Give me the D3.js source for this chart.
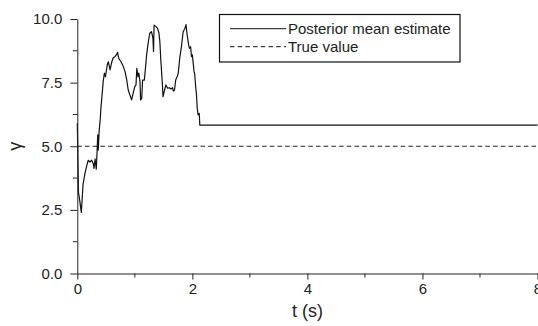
<!DOCTYPE html>
<html>
<head>
<meta charset="utf-8">
<script src="https://cdn.jsdelivr.net/npm/d3@7"></script>
<style>
  body { margin: 0; background: #fff; }
  svg { display: block; font-family: "Liberation Sans", Arial, sans-serif; }
</style>
</head>
<body>
<svg width="538" height="326"></svg>
<script>
// posterior mean estimate of gamma over time
const tValues = [0, 0.01, 0.02, 0.04, 0.07, 0.1, 0.13, 0.16, 0.19, 0.22, 0.25, 0.28, 0.29, 0.31, 0.33,
  0.345, 0.355, 0.365, 0.38, 0.4, 0.41, 0.42, 0.43, 0.45, 0.47, 0.49, 0.52, 0.54, 0.57, 0.6,
  0.625, 0.655, 0.685, 0.7, 0.72, 0.76, 0.8, 0.83, 0.86, 0.885, 0.915, 0.945, 0.97, 1.0, 1.02,
  1.035, 1.055, 1.07, 1.09, 1.1, 1.12, 1.135, 1.165, 1.19, 1.205, 1.235, 1.26, 1.29, 1.315, 1.325,
  1.335, 1.37, 1.395, 1.42, 1.435, 1.45, 1.465, 1.48, 1.49, 1.51, 1.54, 1.57, 1.6, 1.63, 1.655,
  1.67, 1.69, 1.71, 1.735, 1.755, 1.78, 1.81, 1.84, 1.87, 1.89, 1.91, 1.935, 1.95, 1.97, 1.985,
  2.0, 2.03, 2.04, 2.06, 2.07, 2.085, 2.1, 2.12, 2.13, 8];
const gammaValues = [5.9, 4.6, 3.2, 2.9, 2.4, 3.5, 3.9, 4.2, 4.45, 4.38, 4.45, 4.3, 4.13, 4.5, 4.1,
  4.85, 5.45, 4.85, 5.6, 6.1, 6.5, 6.75, 7.0, 7.54, 7.87, 7.73, 8.19, 8.32, 8.0, 8.32,
  8.48, 8.52, 8.61, 8.69, 8.45, 8.32, 8.13, 7.93, 7.6, 7.21, 7.01, 6.82, 7.08, 7.34, 7.41,
  8.06, 7.73, 7.87, 7.54, 6.82, 6.88, 7.6, 7.6, 8.19, 8.59, 9.11, 9.44, 9.5, 9.24, 8.72,
  9.76, 9.7, 9.63, 9.44, 9.11, 8.45, 7.93, 7.41, 6.95, 7.14, 7.41, 7.28, 7.3, 7.25, 7.3,
  7.17, 7.21, 7.6, 7.73, 7.87, 8.45, 8.91, 9.5, 9.63, 9.78, 9.37, 8.98, 8.85, 8.91, 8.52,
  8.59, 7.93, 7.87, 7.28, 7.08, 6.49, 6.23, 6.29, 5.83, 5.83];
const trueValue = 5;
const xTicks = [0, 2, 4, 6, 8];
const xMinor = [1, 3, 5, 7];
const yTicks = [0, 2.5, 5, 7.5, 10];
const yMinor = [1.25, 3.75, 6.25, 8.75];
const legendLabels = ["Posterior mean estimate", "True value"];

const svg = d3.select("svg");
const x = d3.scaleLinear().domain([0, 8]).range([77.3, 537.5]);
const y = d3.scaleLinear().domain([0, 10]).range([273.5, 19]);

const dash = "4.5,3.2";

// true value line
svg.append("line")
  .attr("x1", x(0)).attr("x2", x(8))
  .attr("y1", y(trueValue)).attr("y2", y(trueValue))
  .attr("stroke", "#222").attr("stroke-width", 1)
  .attr("stroke-dasharray", dash);

// estimate
const line = d3.line().x(d => x(d[0])).y(d => y(d[1]));
svg.append("path")
  .datum(tValues.map((t, i) => [t, gammaValues[i]]))
  .attr("d", line)
  .attr("fill", "none")
  .attr("stroke", "#111")
  .attr("stroke-width", 1.2)
  .attr("stroke-linejoin", "round");

// axes
const xAxis = svg.append("g").attr("transform", `translate(0,${y(0)})`)
  .call(d3.axisBottom(x).tickValues(xTicks).tickSize(6).tickSizeOuter(0).tickPadding(4).tickFormat(d3.format("d")));
xAxis.append("g").selectAll("line").data(xMinor).join("line")
  .attr("x1", d => x(d)).attr("x2", d => x(d)).attr("y1", 0).attr("y2", 4)
  .attr("stroke", "#222");

const yAxis = svg.append("g").attr("transform", `translate(${x(0)},0)`)
  .call(d3.axisLeft(y).tickValues(yTicks).tickSize(7).tickSizeOuter(0).tickPadding(8).tickFormat(d3.format(".1f")));
yAxis.append("g").selectAll("line").data(yMinor).join("line")
  .attr("x1", 0).attr("x2", -4.5).attr("y1", d => y(d)).attr("y2", d => y(d))
  .attr("stroke", "#222");

[xAxis, yAxis].forEach(g => {
  g.select(".domain").attr("stroke", "#222");
  g.selectAll(".tick line").attr("stroke", "#222");
  g.selectAll("text").attr("font-size", 15).attr("fill", "#222")
    .attr("font-family", "Liberation Sans, Arial, sans-serif");
});

// axis titles
svg.append("text")
  .attr("x", x(4)).attr("y", 317)
  .attr("text-anchor", "middle")
  .attr("font-size", 18).attr("fill", "#222")
  .text("t (s)");

svg.append("text")
  .attr("transform", `translate(21,${y(5)}) rotate(-90)`)
  .attr("text-anchor", "middle")
  .attr("font-size", 18).attr("fill", "#222")
  .text("γ");

// legend
const legend = svg.append("g");
legend.append("rect")
  .attr("x", 219.5).attr("y", 14.5).attr("width", 240.5).attr("height", 47.5)
  .attr("fill", "#fff").attr("stroke", "#111").attr("stroke-width", 1.2);
legendLabels.forEach((label, i) => {
  const ly = 28.7 + i * 18;
  legend.append("line")
    .attr("x1", 230).attr("x2", 286).attr("y1", ly).attr("y2", ly)
    .attr("stroke", "#111").attr("stroke-width", 1)
    .attr("stroke-dasharray", i === 1 ? dash : null);
  legend.append("text")
    .attr("x", 288).attr("y", ly + 5.2)
    .attr("font-size", 15).attr("fill", "#222")
    .text(label);
});
</script>
</body>
</html>
